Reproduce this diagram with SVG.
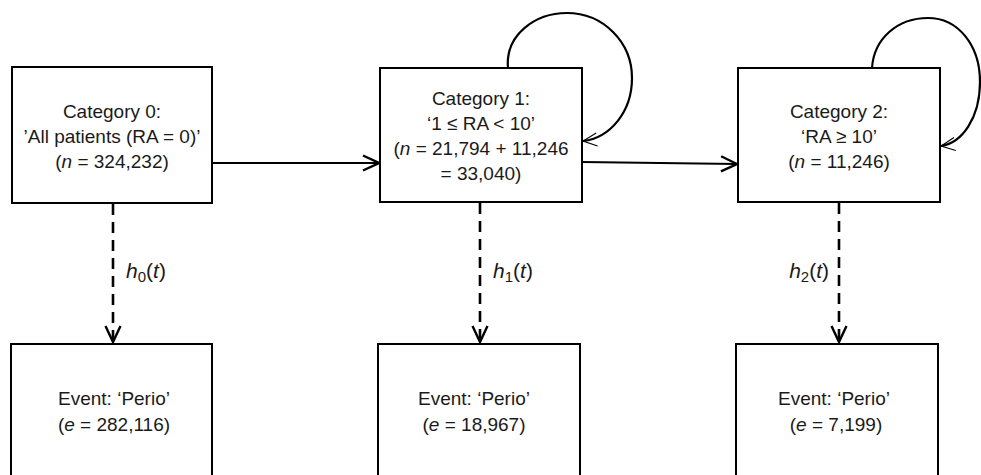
<svg xmlns="http://www.w3.org/2000/svg" width="981" height="475" viewBox="0 0 981 475">
<style>
.box{fill:#fff;stroke:#000;stroke-width:2}
.t{font-family:"Liberation Sans",Arial,sans-serif;font-size:19px;fill:#1a1a1a;text-anchor:middle}
.h{font-family:"Liberation Sans",Arial,sans-serif;font-size:21px;fill:#1a1a1a}
.i{font-style:italic}
.sub{font-size:15px}
.ln{fill:none;stroke:#000;stroke-width:2.2}
.dash{fill:none;stroke:#000;stroke-width:2.6;stroke-dasharray:11 7}
.loop{fill:none;stroke:#000;stroke-width:2.2}
</style>
<defs>
<marker id="ah" markerUnits="userSpaceOnUse" markerWidth="22" markerHeight="22" viewBox="-20 -11 22 22" refX="0" refY="0" orient="auto">
<path d="M-16,-7.5 L0,0 L-16,7.5" fill="none" stroke="#000" stroke-width="2.4" stroke-dasharray="none"/>
</marker>
<marker id="ahThin" markerUnits="userSpaceOnUse" markerWidth="22" markerHeight="22" viewBox="-20 -11 22 22" refX="0" refY="0" orient="auto">
<path d="M-14,-6.5 L0,0 L-14,6.5" fill="none" stroke="#000" stroke-width="1.1"/>
</marker>
</defs>

<g id="connectors">
<path class="ln" d="M212,163 L379,163" marker-end="url(#ah)"/>
<path class="ln" d="M582,162 L737,164" marker-end="url(#ah)"/>
<path class="loop" d="M508,68 C505,35 535,13 567,13 C603,13 632,42 632,78 C632,112 610,138 583,141" marker-end="url(#ahThin)"/>
<path class="loop" d="M872,68 C874,38 898,18 928,18 C958,18 980,45 980,82 C980,118 962,143 941,146" marker-end="url(#ahThin)"/>
<path class="dash" d="M113,204 L113,342" marker-end="url(#ah)"/>
<path class="dash" d="M480,203 L480,342" marker-end="url(#ah)"/>
<path class="dash" d="M839,203 L839,342" marker-end="url(#ah)"/>
<text class="h" x="126" y="278"><tspan class="i">h</tspan><tspan class="sub" dy="4">0</tspan><tspan dy="-4">(</tspan><tspan class="i">t</tspan>)</text>
<text class="h" x="493" y="278"><tspan class="i">h</tspan><tspan class="sub" dy="4">1</tspan><tspan dy="-4">(</tspan><tspan class="i">t</tspan>)</text>
<text class="h" x="829" y="278" text-anchor="end"><tspan class="i">h</tspan><tspan class="sub" dy="4">2</tspan><tspan dy="-4">(</tspan><tspan class="i">t</tspan>)</text>
</g>

<g id="cat0">
<rect class="box" x="12" y="67" width="200" height="136"/>
<text class="t" x="112" y="118">Category 0:</text>
<text class="t" x="112" y="143">’All patients (RA = 0)’</text>
<text class="t" x="112" y="168">(<tspan class="i">n</tspan> = 324,232)</text>
</g>

<g id="cat1">
<rect class="box" x="380" y="68" width="202" height="134"/>
<text class="t" x="481" y="105">Category 1:</text>
<text class="t" x="481" y="130">‘1 ≤ RA &lt; 10’</text>
<text class="t" x="481" y="155">(<tspan class="i">n</tspan> = 21,794 + 11,246</text>
<text class="t" x="481" y="180">= 33,040)</text>
</g>

<g id="cat2">
<rect class="box" x="738" y="68" width="202" height="134"/>
<text class="t" x="839" y="118">Category 2:</text>
<text class="t" x="839" y="143">‘RA ≥ 10’</text>
<text class="t" x="839" y="168">(<tspan class="i">n</tspan> = 11,246)</text>
</g>

<g id="event0">
<rect class="box" x="11" y="344" width="201" height="140"/>
<text class="t" x="114" y="405">Event: ‘Perio’</text>
<text class="t" x="114" y="431">(<tspan class="i">e</tspan> = 282,116)</text>
</g>

<g id="event1">
<rect class="box" x="378" y="344" width="202" height="140"/>
<text class="t" x="474" y="405">Event: ‘Perio’</text>
<text class="t" x="474" y="431">(<tspan class="i">e</tspan> = 18,967)</text>
</g>

<g id="event2">
<rect class="box" x="736" y="344" width="202" height="140"/>
<text class="t" x="834" y="405">Event: ‘Perio’</text>
<text class="t" x="836" y="431">(<tspan class="i">e</tspan> = 7,199)</text>
</g>
</svg>
